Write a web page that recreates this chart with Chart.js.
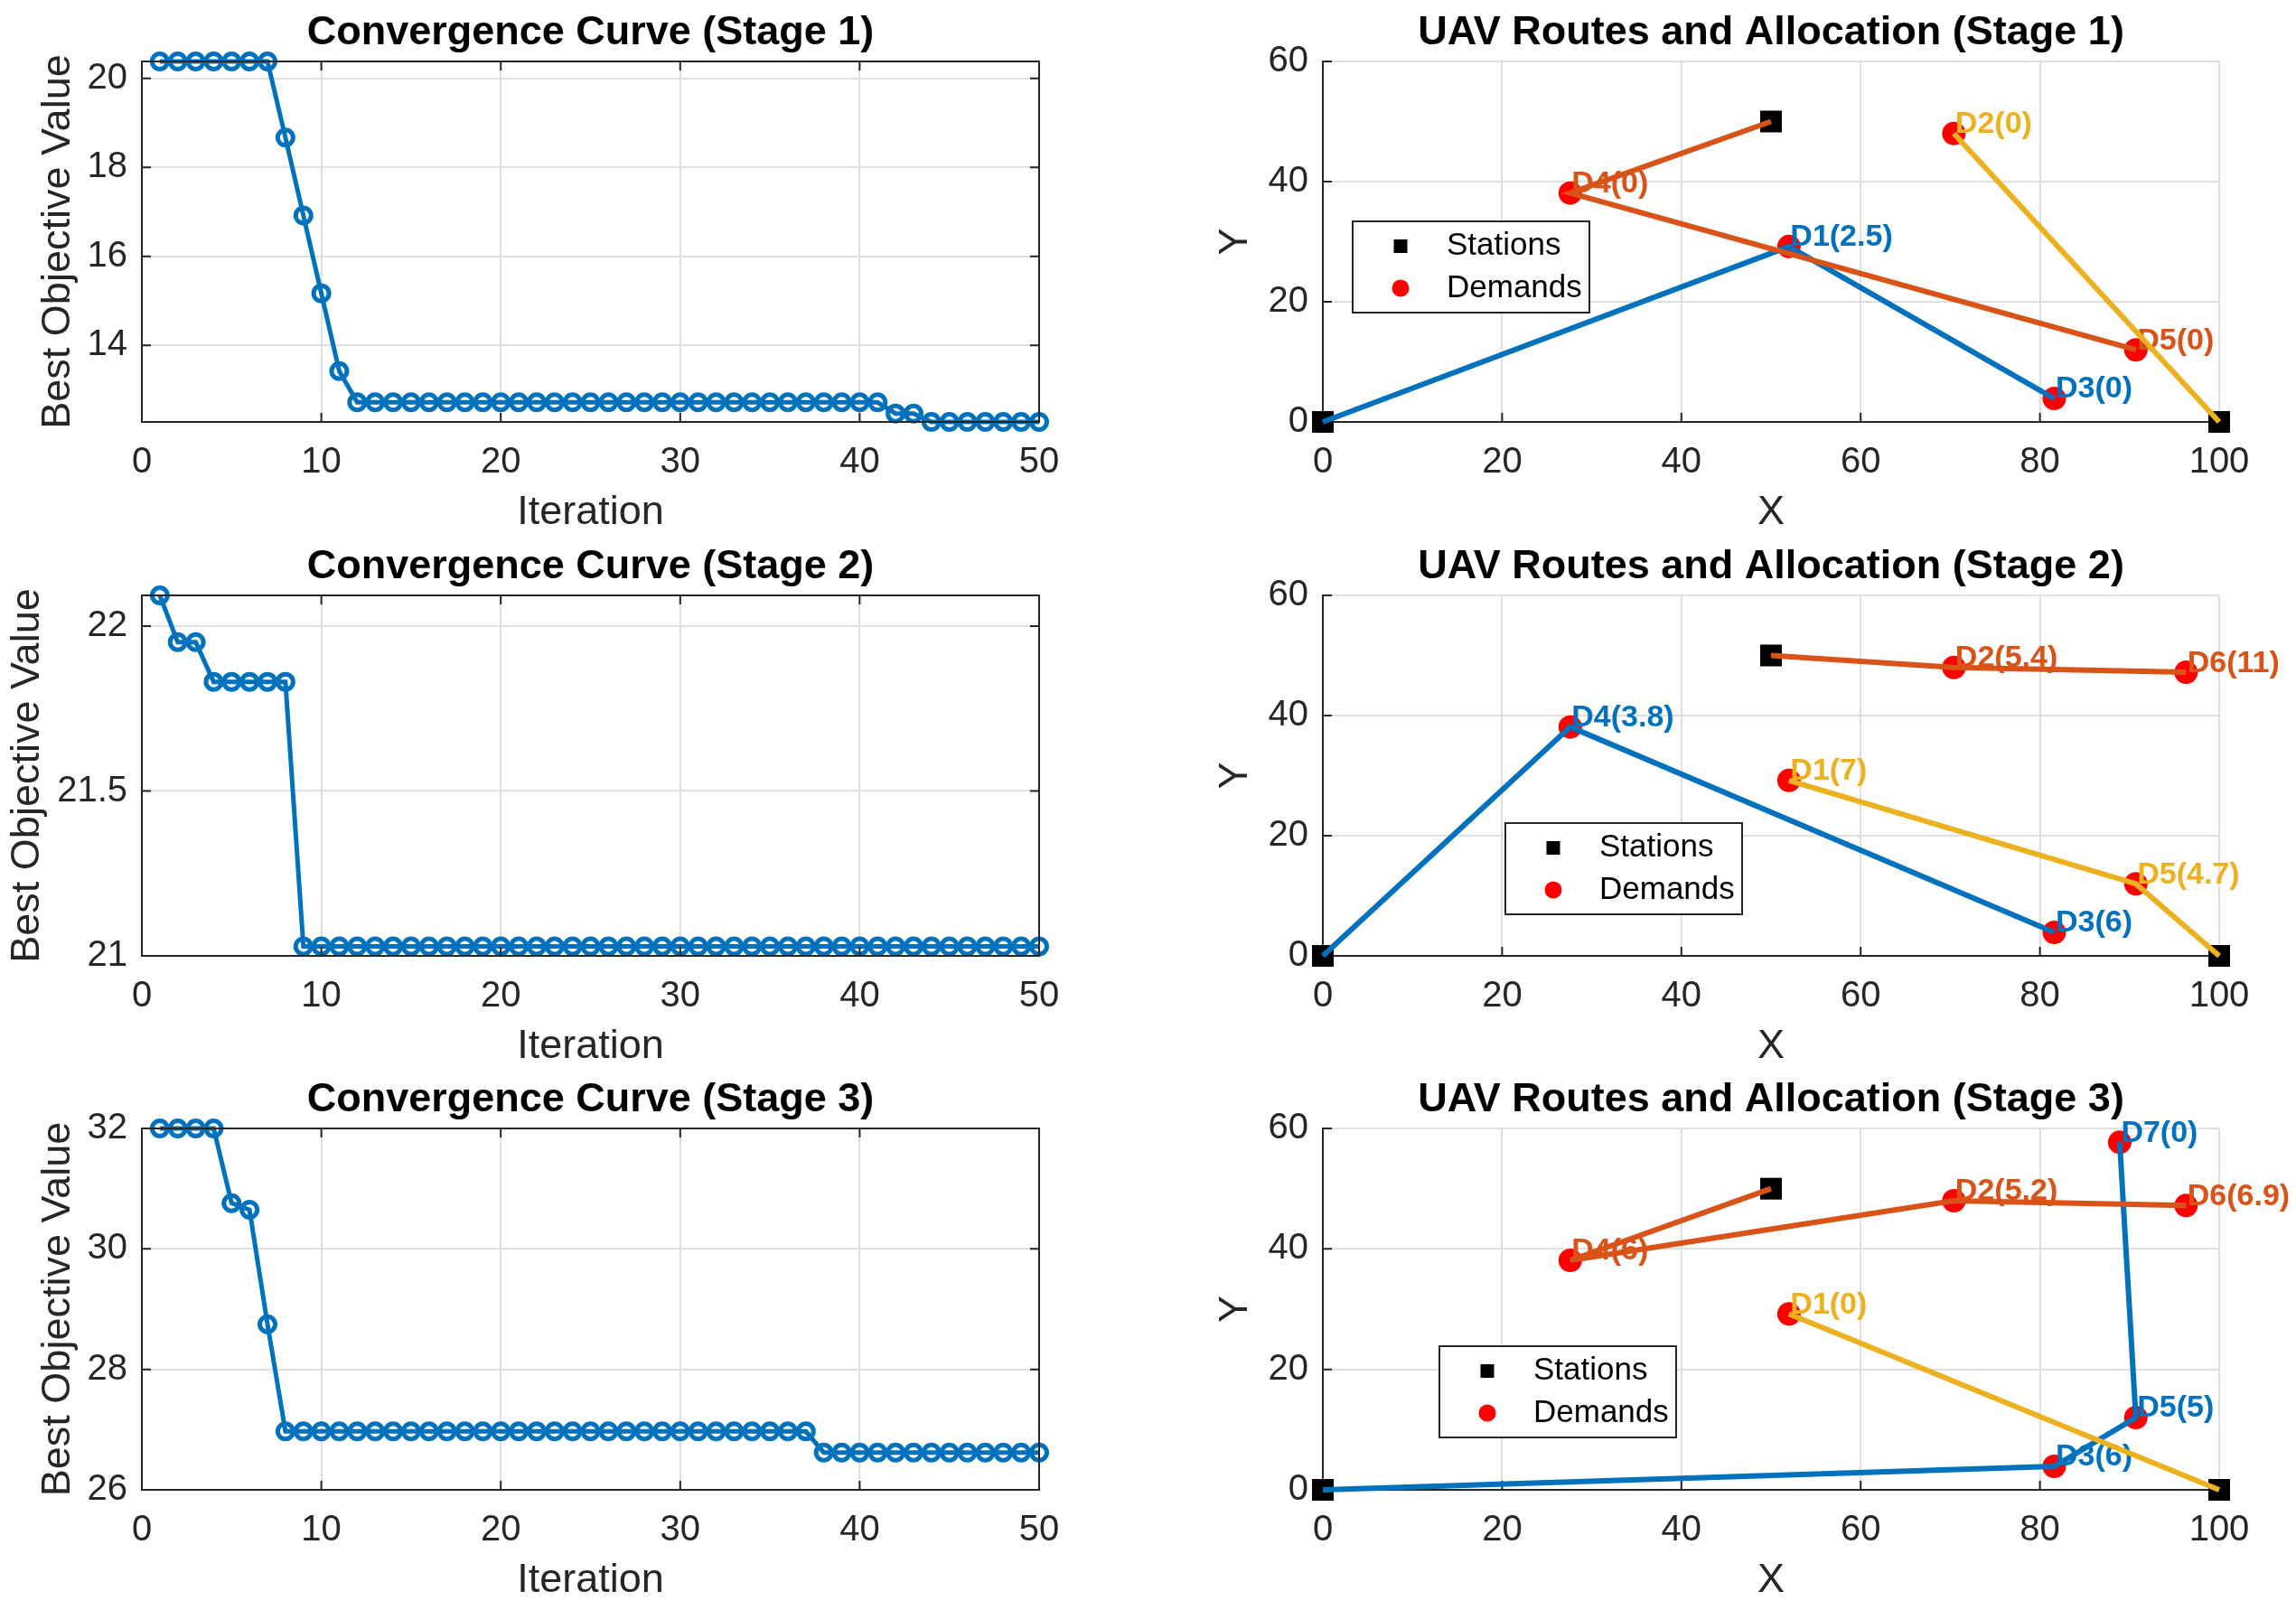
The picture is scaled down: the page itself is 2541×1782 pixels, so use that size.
<!DOCTYPE html>
<html>
<head>
<meta charset="utf-8">
<script src="https://cdn.jsdelivr.net/npm/chart.js@4.4.1/dist/chart.umd.min.js"></script>
<style>
html, body { margin: 0; padding: 0; background: #ffffff; }
body { width: 2541px; height: 1782px; position: relative; overflow: hidden; }
canvas { position: absolute; }
</style>
</head>
<body>
<canvas id="conv1"></canvas>
<canvas id="route1"></canvas>
<canvas id="conv2"></canvas>
<canvas id="route2"></canvas>
<canvas id="conv3"></canvas>
<canvas id="route3"></canvas>
<script>
// ---------------- DATA ----------------
const iterations = [1,2,3,4,5,6,7,8,9,10,11,12,13,14,15,16,17,18,19,20,21,22,23,24,25,26,27,28,29,30,31,32,33,34,35,36,37,38,39,40,41,42,43,44,45,46,47,48,49,50];

const convStage1 = [
  20.38, 20.38, 20.38, 20.38, 20.38, 20.38, 20.38, 18.67, 16.92, 15.17,
  13.42, 12.72, 12.72, 12.72, 12.72, 12.72, 12.72, 12.72, 12.72, 12.72,
  12.72, 12.72, 12.72, 12.72, 12.72, 12.72, 12.72, 12.72, 12.72, 12.72,
  12.72, 12.72, 12.72, 12.72, 12.72, 12.72, 12.72, 12.72, 12.72, 12.72,
  12.72, 12.47, 12.47, 12.28, 12.28, 12.28, 12.28, 12.28, 12.28, 12.28
];
const convStage2 = [
  22.093, 21.951, 21.951, 21.831, 21.831, 21.831, 21.831, 21.831, 21.029, 21.029,
  21.029, 21.029, 21.029, 21.029, 21.029, 21.029, 21.029, 21.029, 21.029, 21.029,
  21.029, 21.029, 21.029, 21.029, 21.029, 21.029, 21.029, 21.029, 21.029, 21.029,
  21.029, 21.029, 21.029, 21.029, 21.029, 21.029, 21.029, 21.029, 21.029, 21.029,
  21.029, 21.029, 21.029, 21.029, 21.029, 21.029, 21.029, 21.029, 21.029, 21.029
];
const convStage3 = [
  32.00, 32.00, 32.00, 32.00, 30.76, 30.65, 28.75, 26.97, 26.97, 26.97,
  26.97, 26.97, 26.97, 26.97, 26.97, 26.97, 26.97, 26.97, 26.97, 26.97,
  26.97, 26.97, 26.97, 26.97, 26.97, 26.97, 26.97, 26.97, 26.97, 26.97,
  26.97, 26.97, 26.97, 26.97, 26.97, 26.97, 26.97, 26.62, 26.62, 26.62,
  26.62, 26.62, 26.62, 26.62, 26.62, 26.62, 26.62, 26.62, 26.62, 26.62
];

const convXTicks = [0, 10, 20, 30, 40, 50];
const convYTicks1 = [14, 16, 18, 20];
const convYTicks2 = [21, 21.5, 22];
const convYTicks3 = [26, 28, 30, 32];
const convYRange1 = [12.28, 20.38];
const convYRange2 = [21, 22.093];
const convYRange3 = [26, 32];

const routeXTicks = [0, 20, 40, 60, 80, 100];
const routeYTicks = [0, 20, 40, 60];

const stationNames = ['S1', 'S2', 'S3'];
const stationX = [0, 50, 100];
const stationY = [0, 50, 0];

const demandNames = ['D1', 'D2', 'D3', 'D4', 'D5', 'D6', 'D7'];
const demandX = [52.0, 70.4, 81.6, 27.6, 90.7, 96.3, 88.9];
const demandY = [29.2, 48.0, 3.9, 38.1, 12.0, 47.2, 57.7];

// allocation shown in each demand label, per stage
const allocStage1 = [2.5, 0, 0, 0, 0];
const allocStage2 = [7, 5.4, 6, 3.8, 4.7, 11];
const allocStage3 = [0, 5.2, 6, 6, 5, 6.9, 0];

// index of the route (UAV) that serves each demand, per stage
const serveStage1 = [0, 2, 0, 1, 1];
const serveStage2 = [2, 1, 0, 0, 2, 1];
const serveStage3 = [2, 1, 0, 1, 0, 1, 0];

// routes as node sequences, per stage
const routesStage1 = [['S1', 'D1', 'D3'], ['S2', 'D4', 'D5'], ['D2', 'S3']];
const routesStage2 = [['S1', 'D4', 'D3'], ['S2', 'D2', 'D6'], ['D1', 'D5', 'S3']];
const routesStage3 = [['S1', 'D3', 'D5', 'D7'], ['S2', 'D4', 'D2', 'D6'], ['D1', 'S3']];

const legendLabels = ['Stations', 'Demands'];

// ---------------- STYLE / LAYOUT ----------------
const FONT = '"Liberation Sans", Arial, Helvetica, sans-serif';
const AXC = '#262626';
const GRID = '#DFDFDF';
const ROUTE_COLORS = ['#0072BD', '#D95319', '#EDB120'];
const CONV_COLOR = '#0072BD';
const ROW_TOP = [68, 659, 1249];
const ROW_BOTTOM = [467, 1058, 1649];
const Y_AXIS_W = 157;
const X_AXIS_H = 130;
const TITLE_SIZE = 45;
const TITLE_PAD_B = 4;
const TITLE_BLOCK = TITLE_SIZE * 1.2 + TITLE_PAD_B;

Chart.defaults.font.family = FONT;

// frame + inward tick marks
const framePlugin = {
  id: 'frame',
  drawFrame(chart, o) {
    const { ctx, chartArea: a, scales } = chart;
    const x = scales.x, y = scales.y;
    ctx.save();
    ctx.strokeStyle = AXC;
    ctx.lineWidth = 2;
    ctx.lineCap = 'square';
    ctx.beginPath();
    ctx.moveTo(a.left, a.top);
    ctx.lineTo(a.left, a.bottom);
    ctx.lineTo(a.right, a.bottom);
    if (o.box) { ctx.lineTo(a.right, a.top); ctx.closePath(); }
    ctx.stroke();
    const tl = 10;
    ctx.lineCap = 'butt';
    ctx.beginPath();
    x.ticks.forEach(t => {
      const px = x.getPixelForValue(t.value);
      ctx.moveTo(px, a.bottom); ctx.lineTo(px, a.bottom - tl);
      if (o.box) { ctx.moveTo(px, a.top); ctx.lineTo(px, a.top + tl); }
    });
    y.ticks.forEach(t => {
      const py = y.getPixelForValue(t.value);
      ctx.moveTo(a.left, py); ctx.lineTo(a.left + tl, py);
      if (o.box) { ctx.moveTo(a.right, py); ctx.lineTo(a.right - tl, py); }
    });
    ctx.stroke();
    ctx.restore();
  },
  beforeDatasetsDraw(chart, args, o) { if (!o.onTop) this.drawFrame(chart, o); },
  afterDatasetsDraw(chart, args, o) { if (o.onTop) this.drawFrame(chart, o); }
};

// demand text labels, drawn right after the demand markers
const demandLabelPlugin = {
  id: 'demandLabels',
  afterDatasetDraw(chart, args, o) {
    const ds = chart.data.datasets[args.index];
    if (!ds || ds.role !== 'demand' || !o.items) return;
    const { ctx, scales: { x, y } } = chart;
    ctx.save();
    ctx.font = 'bold 34px ' + FONT;
    ctx.textAlign = 'left';
    ctx.textBaseline = 'middle';
    o.items.forEach(it => {
      ctx.fillStyle = it.color;
      ctx.fillText(it.text, x.getPixelForValue(it.x + 0.15), y.getPixelForValue(it.y + 1.5));
    });
    ctx.restore();
  }
};

// boxed legend placed inside the plot area
const boxLegendPlugin = {
  id: 'boxLegend',
  afterDatasetsDraw(chart, args, o) {
    if (!o.items) return;
    const { ctx, chartArea: a } = chart;
    const x0 = a.left + o.dx, y0 = a.top + o.dy;
    ctx.save();
    ctx.fillStyle = '#ffffff';
    ctx.fillRect(x0, y0, o.w, o.h);
    ctx.strokeStyle = AXC;
    ctx.lineWidth = 2;
    ctx.strokeRect(x0, y0, o.w, o.h);
    o.items.forEach((it, i) => {
      const cy = y0 + o.rowY[i];
      const cx = x0 + o.markX;
      ctx.fillStyle = it.color;
      if (it.shape === 'rect') {
        ctx.fillRect(cx - it.size / 2, cy - it.size / 2, it.size, it.size);
      } else {
        ctx.beginPath(); ctx.arc(cx, cy, it.size / 2, 0, Math.PI * 2); ctx.fill();
      }
      ctx.fillStyle = '#000000';
      ctx.font = '35px ' + FONT;
      ctx.textAlign = 'left';
      ctx.textBaseline = 'middle';
      ctx.fillText(it.text, x0 + o.textX, cy);
    });
    ctx.restore();
  }
};

function placeCanvas(id, left, width, row) {
  const c = document.getElementById(id);
  const top = ROW_TOP[row] - TITLE_BLOCK;
  const height = ROW_BOTTOM[row] + X_AXIS_H - top;
  c.width = width; c.height = height;
  c.style.left = left + 'px'; c.style.top = top + 'px';
  c.style.width = width + 'px'; c.style.height = height + 'px';
  return c;
}

function axisOptions(cfg) {
  return {
    responsive: false,
    animation: false,
    devicePixelRatio: 1,
    events: [],
    layout: { padding: { left: 0, right: cfg.padRight, top: 0, bottom: 0 } },
    plugins: {
      legend: { display: false },
      tooltip: { enabled: false },
      title: {
        display: true, text: cfg.title, color: '#000000', fullSize: false,
        font: { family: FONT, size: TITLE_SIZE, weight: 'bold', lineHeight: 1.2 },
        padding: { top: 0, bottom: TITLE_PAD_B }
      },
      frame: { box: cfg.box, onTop: cfg.box },
      demandLabels: cfg.labels || {},
      boxLegend: cfg.legend || {}
    },
    scales: {
      x: {
        type: 'linear', min: cfg.xRange[0], max: cfg.xRange[1],
        afterFit: s => { s.height = X_AXIS_H; },
        afterBuildTicks: s => { s.ticks = cfg.xTicks.map(v => ({ value: v })); },
        grid: { color: GRID, lineWidth: 2, drawTicks: false },
        border: { display: false },
        ticks: { autoSkip: false, maxRotation: 0, padding: 21, color: AXC,
                 font: { family: FONT, size: 40, lineHeight: 1.2 }, callback: v => String(v) },
        title: { display: true, text: cfg.xTitle, color: AXC,
                 font: { family: FONT, size: 45, lineHeight: 1.2 }, padding: { top: 0, bottom: 2 } }
      },
      y: {
        type: 'linear', min: cfg.yRange[0], max: cfg.yRange[1],
        afterFit: s => { s.width = Y_AXIS_W; },
        afterBuildTicks: s => { s.ticks = cfg.yTicks.map(v => ({ value: v })); },
        grid: { color: GRID, lineWidth: 2, drawTicks: false },
        border: { display: false },
        ticks: { autoSkip: false, padding: 16, color: AXC,
                 font: { family: FONT, size: 40, lineHeight: 1.2 }, callback: v => String(v) },
        title: { display: true, text: cfg.yTitle, color: AXC,
                 font: { family: FONT, size: 45, lineHeight: 1.2 }, padding: { top: cfg.yTitlePad, bottom: 0 } }
      }
    }
  };
}

function convChart(id, row, values, yTicks, yRange, yTitlePad) {
  const canvas = placeCanvas(id, 0, 1300, row);
  return new Chart(canvas, {
    type: 'line',
    data: {
      datasets: [{
        data: iterations.map((it, i) => ({ x: it, y: values[i] })),
        borderColor: CONV_COLOR, borderWidth: 5,
        pointStyle: 'circle', pointRadius: 8.5, pointBorderWidth: 5,
        pointBorderColor: CONV_COLOR, pointBackgroundColor: 'rgba(0,0,0,0)',
        tension: 0, clip: false
      }]
    },
    options: axisOptions({
      title: 'Convergence Curve (Stage ' + (row + 1) + ')',
      xTitle: 'Iteration', yTitle: 'Best Objective Value',
      xRange: [0, 50], yRange: yRange, xTicks: convXTicks, yTicks: yTicks,
      padRight: 150, yTitlePad: yTitlePad, box: true
    }),
    plugins: [framePlugin]
  });
}

function nodePoint(name) {
  const si = stationNames.indexOf(name);
  if (si >= 0) return { x: stationX[si], y: stationY[si] };
  const di = demandNames.indexOf(name);
  return { x: demandX[di], y: demandY[di] };
}

function routeChart(id, row, alloc, serve, routes, legendPos) {
  const canvas = placeCanvas(id, 1307, 1234, row);
  const n = alloc.length;
  const datasets = [
    {
      role: 'station',
      data: stationNames.map((s, i) => ({ x: stationX[i], y: stationY[i] })),
      showLine: false, pointStyle: 'rect', pointRadius: 17, pointBorderWidth: 0,
      pointBackgroundColor: '#000000', pointBorderColor: '#000000', clip: false, order: 10
    },
    {
      role: 'demand',
      data: demandNames.slice(0, n).map((d, i) => ({ x: demandX[i], y: demandY[i] })),
      showLine: false, pointStyle: 'circle', pointRadius: 13, pointBorderWidth: 0,
      pointBackgroundColor: '#FF0000', pointBorderColor: '#FF0000', clip: false, order: 9
    }
  ];
  routes.forEach((r, k) => {
    datasets.push({
      role: 'route',
      data: r.map(nodePoint),
      showLine: true, borderColor: ROUTE_COLORS[k], borderWidth: 6, pointRadius: 0,
      tension: 0, clip: false, order: 3 - k
    });
  });
  const labelItems = demandNames.slice(0, n).map((d, i) => ({
    text: d + '(' + alloc[i] + ')', x: demandX[i], y: demandY[i], color: ROUTE_COLORS[serve[i]]
  }));
  return new Chart(canvas, {
    type: 'line',
    data: { datasets },
    options: axisOptions({
      title: 'UAV Routes and Allocation (Stage ' + (row + 1) + ')',
      xTitle: 'X', yTitle: 'Y',
      xRange: [0, 100], yRange: [0, 60], xTicks: routeXTicks, yTicks: routeYTicks,
      padRight: 85, yTitlePad: 34, box: false,
      labels: { items: labelItems },
      legend: {
        dx: legendPos[0], dy: legendPos[1], w: 262, h: 101,
        markX: 53, textX: 104, rowY: [27.5, 74],
        items: [
          { text: legendLabels[0], shape: 'rect', size: 15, color: '#000000' },
          { text: legendLabels[1], shape: 'circle', size: 19, color: '#FF0000' }
        ]
      }
    }),
    plugins: [framePlugin, demandLabelPlugin, boxLegendPlugin]
  });
}

convChart('conv1', 0, convStage1, convYTicks1, convYRange1, 38);
convChart('conv2', 1, convStage2, convYTicks2, convYRange2, 4);
convChart('conv3', 2, convStage3, convYTicks3, convYRange3, 38);
routeChart('route1', 0, allocStage1, serveStage1, routesStage1, [33, 177]);
routeChart('route2', 1, allocStage2, serveStage2, routesStage2, [202, 252]);
routeChart('route3', 2, allocStage3, serveStage3, routesStage3, [129, 241]);
</script>
</body>
</html>
